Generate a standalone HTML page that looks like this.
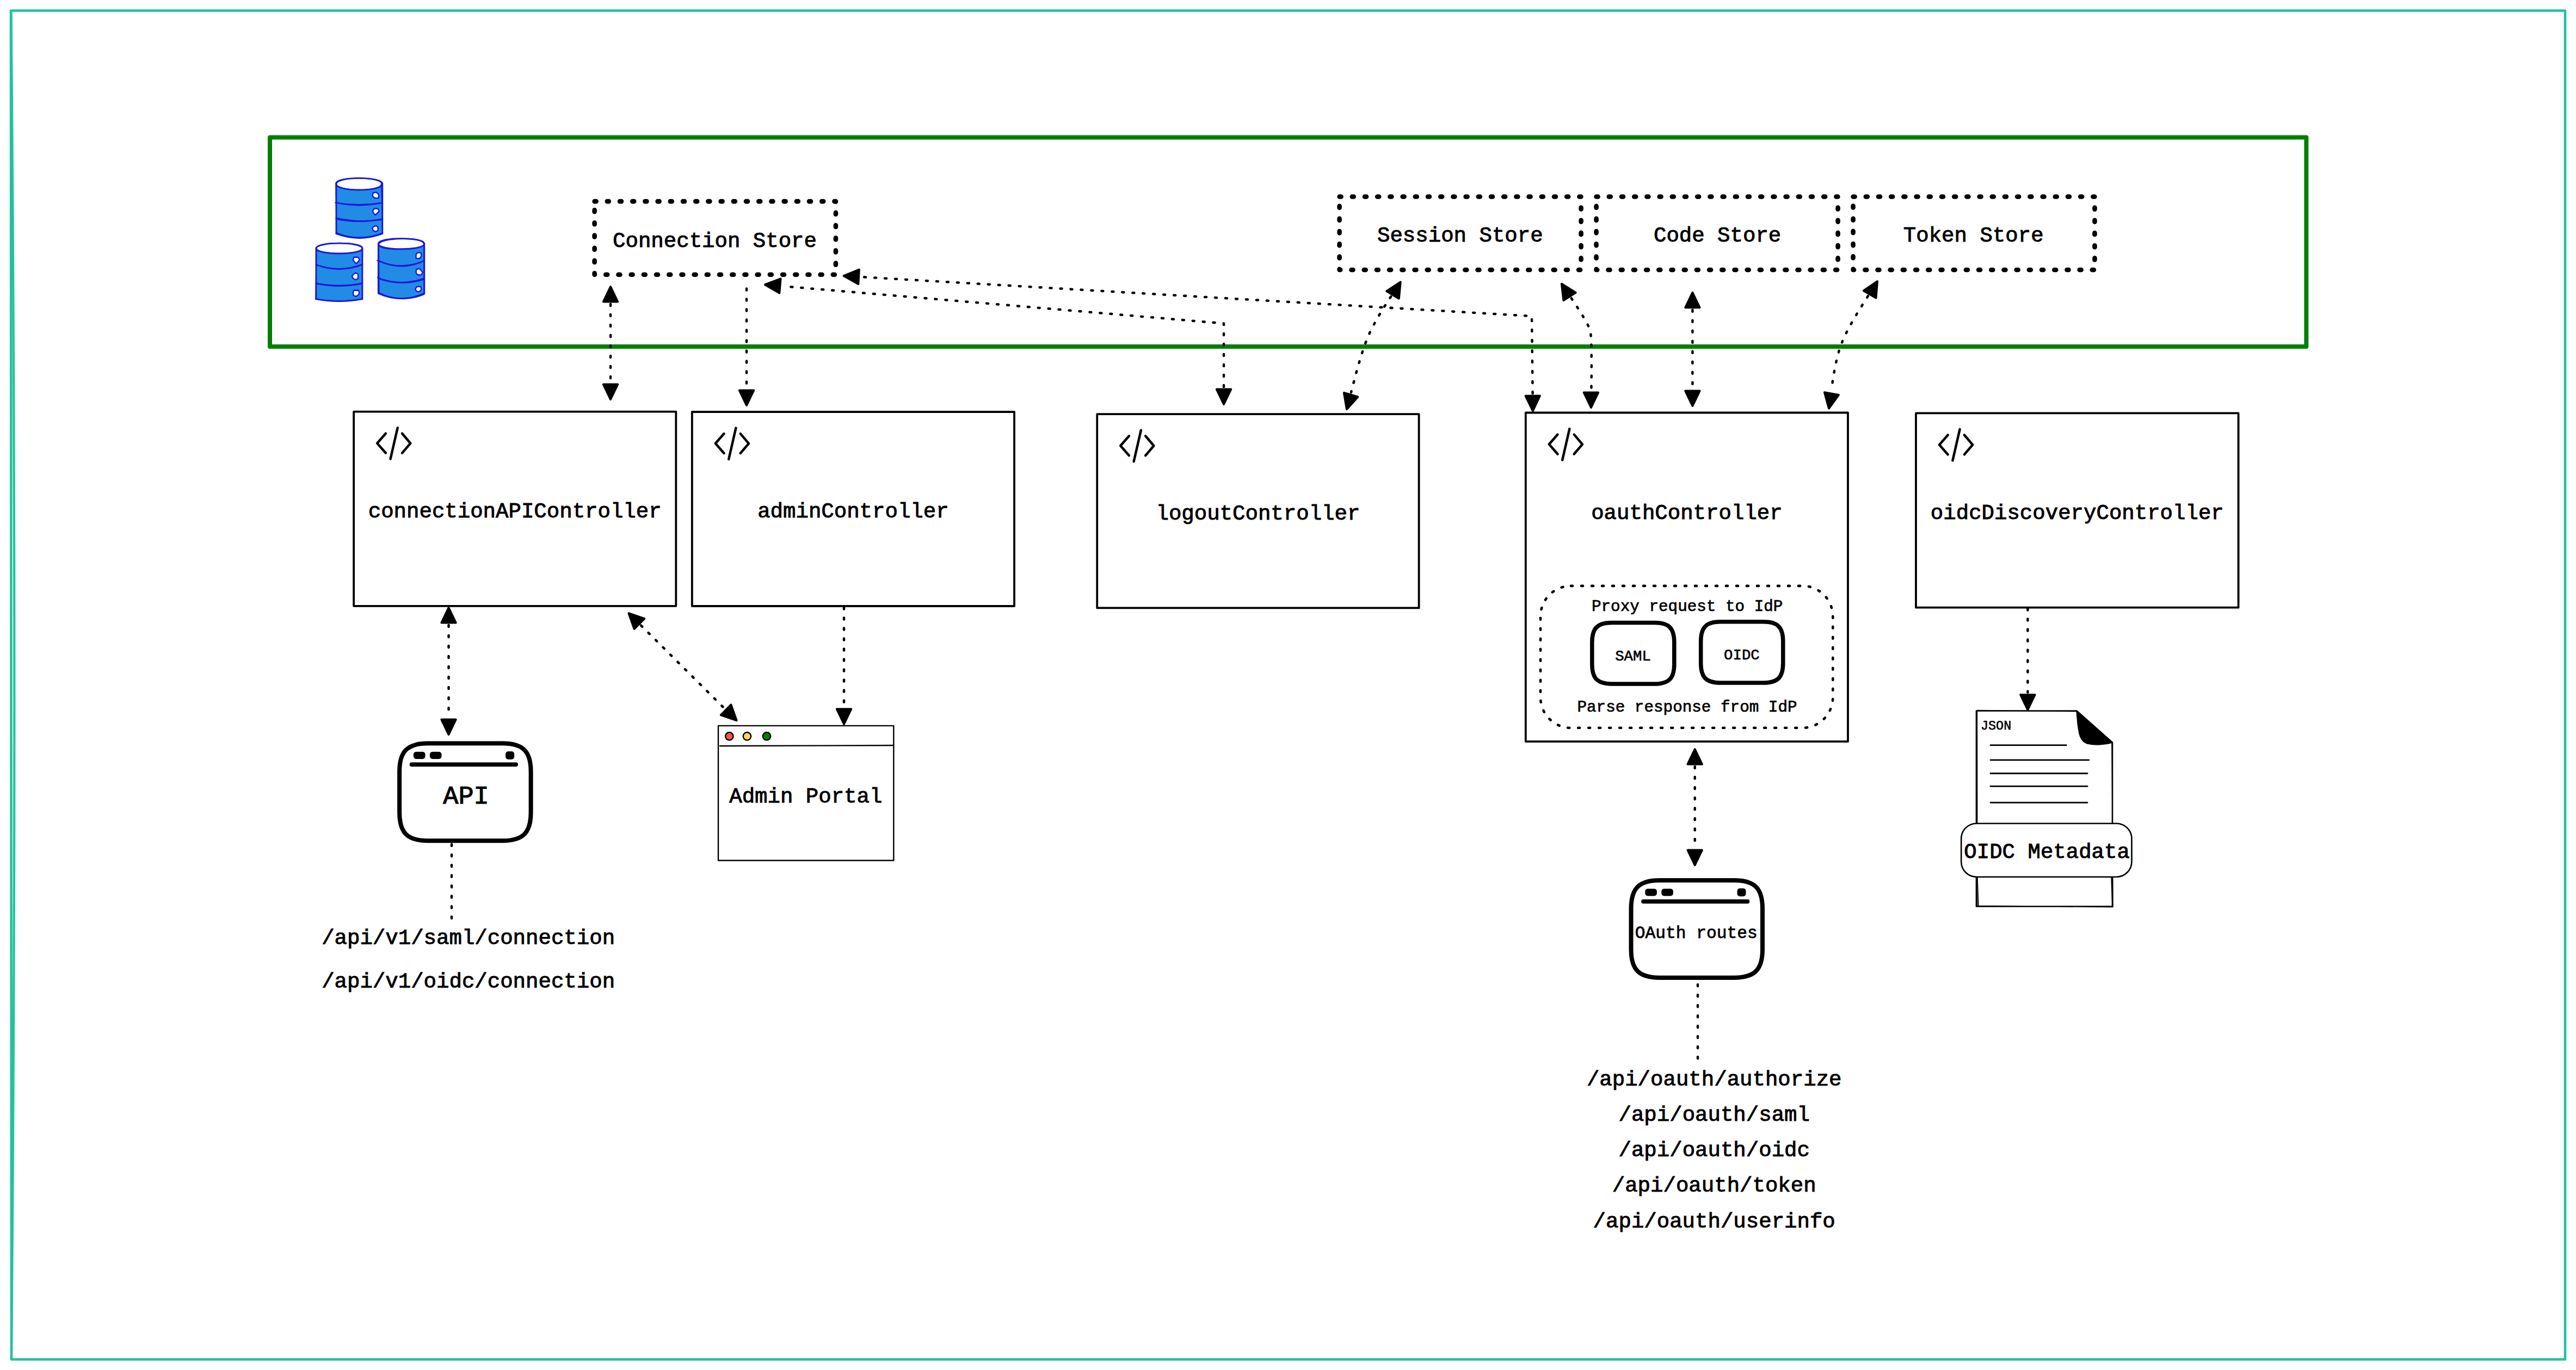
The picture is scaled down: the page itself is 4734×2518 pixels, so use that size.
<!DOCTYPE html><html><head><meta charset="utf-8"><style>html,body{margin:0;padding:0;background:#fff;} text{font-family:"Liberation Mono",monospace;}</style></head><body><svg width="4734" height="2518" viewBox="0 0 4734 2518" style="display:block">
<rect x="0" y="0" width="4734" height="2518" fill="#fff"/>
<path d="M20,19.6 L4714,19.6 L4714,2498.4 L21,2498.4 Z" fill="none" stroke="#22c29d" stroke-width="4.5" stroke-linejoin="round"/>
<path d="M20.5,20 Q32,1259 21,2498" fill="none" stroke="#22c29d" stroke-width="4.2"/>
<rect x="496" y="252.4" width="3742.3999999999996" height="384.6" rx="0" fill="none" stroke="#008000" stroke-width="8" stroke-linejoin="round" />
<rect x="1092.6" y="370.1" width="443.3000000000002" height="134.59999999999997" rx="0" fill="none" stroke="#000" stroke-width="8.6" stroke-linejoin="round" stroke-dasharray="3 20.2" stroke-linecap="round"/>
<rect x="2461.6" y="361.5" width="444.0" height="134.5" rx="0" fill="none" stroke="#000" stroke-width="8.6" stroke-linejoin="round" stroke-dasharray="3 20.2" stroke-linecap="round"/>
<rect x="2933.6" y="361.5" width="444.0" height="134.5" rx="0" fill="none" stroke="#000" stroke-width="8.6" stroke-linejoin="round" stroke-dasharray="3 20.2" stroke-linecap="round"/>
<rect x="3405.6" y="361.5" width="443.9000000000001" height="134.5" rx="0" fill="none" stroke="#000" stroke-width="8.6" stroke-linejoin="round" stroke-dasharray="3 20.2" stroke-linecap="round"/>
<text transform="translate(1313.5,454.0) scale(1,1.0)" font-size="39.05" text-anchor="middle" font-weight="normal" fill="#000" stroke="#000" stroke-width="0.96">Connection Store</text>
<text transform="translate(2683.3,444.4) scale(1,1.0)" font-size="39.05" text-anchor="middle" font-weight="normal" fill="#000" stroke="#000" stroke-width="0.96">Session Store</text>
<text transform="translate(3156.1,444.4) scale(1,1.0)" font-size="39.05" text-anchor="middle" font-weight="normal" fill="#000" stroke="#000" stroke-width="0.96">Code Store</text>
<text transform="translate(3626.7,444.4) scale(1,1.0)" font-size="39.05" text-anchor="middle" font-weight="normal" fill="#000" stroke="#000" stroke-width="0.96">Token Store</text>
<rect x="650.1" y="756.6" width="592.1999999999999" height="357.19999999999993" rx="0" fill="none" stroke="#000" stroke-width="3.8" stroke-linejoin="round" />
<g fill="none" stroke="#000" stroke-width="4.5" stroke-linecap="round" stroke-linejoin="round"><path d="M708.8,796.7 L693.1,814.7 L708.8,832.6"/><path d="M730.7,786.2 L717.5,843.6"/><path d="M739.0,796.7 L754.3,814.7 L739.0,832.6"/></g>
<text transform="translate(946.2,951.0) scale(1,1.0)" font-size="39.05" text-anchor="middle" font-weight="normal" fill="#000" stroke="#000" stroke-width="0.96">connectionAPIController</text>
<rect x="1271.8" y="757" width="592.2" height="357" rx="0" fill="none" stroke="#000" stroke-width="3.8" stroke-linejoin="round" />
<g fill="none" stroke="#000" stroke-width="4.5" stroke-linecap="round" stroke-linejoin="round"><path d="M1330.5,797.1 L1314.8,815.1 L1330.5,833.0"/><path d="M1352.4,786.6 L1339.2,844.0"/><path d="M1360.7,797.1 L1376.0,815.1 L1360.7,833.0"/></g>
<text transform="translate(1567.9,951.0) scale(1,1.0)" font-size="39.05" text-anchor="middle" font-weight="normal" fill="#000" stroke="#000" stroke-width="0.96">adminController</text>
<rect x="2016.2" y="761.2" width="591.3999999999999" height="356.20000000000005" rx="0" fill="none" stroke="#000" stroke-width="3.8" stroke-linejoin="round" />
<g fill="none" stroke="#000" stroke-width="4.5" stroke-linecap="round" stroke-linejoin="round"><path d="M2074.9,801.3 L2059.2,819.3 L2074.9,837.2"/><path d="M2096.8,790.8 L2083.6,848.2"/><path d="M2105.1,801.3 L2120.4,819.3 L2105.1,837.2"/></g>
<text transform="translate(2311.9,955.2) scale(1,1.0)" font-size="39.05" text-anchor="middle" font-weight="normal" fill="#000" stroke="#000" stroke-width="0.96">logoutController</text>
<rect x="2803.8" y="758.5" width="592.1999999999998" height="604.3" rx="0" fill="none" stroke="#000" stroke-width="3.8" stroke-linejoin="round" />
<g fill="none" stroke="#000" stroke-width="4.5" stroke-linecap="round" stroke-linejoin="round"><path d="M2862.5,798.6 L2846.8,816.6 L2862.5,834.5"/><path d="M2884.4,788.1 L2871.2,845.5"/><path d="M2892.7,798.6 L2908.0,816.6 L2892.7,834.5"/></g>
<text transform="translate(3099.9,953.5) scale(1,1.0)" font-size="39.05" text-anchor="middle" font-weight="normal" fill="#000" stroke="#000" stroke-width="0.96">oauthController</text>
<rect x="3521" y="759.4" width="592.6000000000004" height="357.30000000000007" rx="0" fill="none" stroke="#000" stroke-width="3.8" stroke-linejoin="round" />
<g fill="none" stroke="#000" stroke-width="4.5" stroke-linecap="round" stroke-linejoin="round"><path d="M3579.7,799.5 L3564.0,817.5 L3579.7,835.4"/><path d="M3601.6,789.0 L3588.4,846.4"/><path d="M3609.9,799.5 L3625.2,817.5 L3609.9,835.4"/></g>
<text transform="translate(3817.3,953.8) scale(1,1.0)" font-size="39.05" text-anchor="middle" font-weight="normal" fill="#000" stroke="#000" stroke-width="0.96">oidcDiscoveryController</text>
<rect x="2831" y="1076.9" width="537.3" height="260.9" rx="56" fill="none" stroke="#000" stroke-width="4.6" stroke-dasharray="3 16" stroke-linecap="round"/>
<text transform="translate(3100.7,1123.0) scale(1,1.0)" font-size="29.29" text-anchor="middle" font-weight="normal" fill="#000" stroke="#000" stroke-width="0.72">Proxy request to IdP</text>
<text transform="translate(3100.5,1307.6) scale(1,1.0)" font-size="29.29" text-anchor="middle" font-weight="normal" fill="#000" stroke="#000" stroke-width="0.72">Parse response from IdP</text>
<path d="M2961.8,1144.5 L3040.8,1144.5 C3066.8,1144.5 3076.8,1154.5 3076.8,1180.5 L3076.8,1221.0 C3076.8,1246.9 3066.8,1257.0 3040.8,1257.0 L2961.8,1257.0 C2935.9,1257.0 2925.8,1246.9 2925.8,1221.0 L2925.8,1180.5 C2925.8,1154.5 2935.9,1144.5 2961.8,1144.5 Z" fill="none" stroke="#000" stroke-width="7.5"/>
<path d="M3161.7,1142.8 L3240.8,1142.8 C3266.8,1142.8 3276.8,1152.8 3276.8,1178.8 L3276.8,1219.0 C3276.8,1245.0 3266.8,1255.0 3240.8,1255.0 L3161.7,1255.0 C3135.7,1255.0 3125.7,1245.0 3125.7,1219.0 L3125.7,1178.8 C3125.7,1152.8 3135.7,1142.8 3161.7,1142.8 Z" fill="none" stroke="#000" stroke-width="7.5"/>
<text transform="translate(3001.0,1214.0) scale(1,1.0)" font-size="27.34" text-anchor="middle" font-weight="normal" fill="#000" stroke="#000" stroke-width="0.672">SAML</text>
<text transform="translate(3200.9,1211.8) scale(1,1.0)" font-size="27.34" text-anchor="middle" font-weight="normal" fill="#000" stroke="#000" stroke-width="0.672">OIDC</text>
<path d="M786.1,1366.3 L923.6,1366.3 C961.0,1366.3 975.6,1380.9 975.6,1418.3 L975.6,1493.2 C975.6,1530.6 961.0,1545.2 923.6,1545.2 L786.1,1545.2 C748.7,1545.2 734.1,1530.6 734.1,1493.2 L734.1,1418.3 C734.1,1380.9 748.7,1366.3 786.1,1366.3 Z" fill="none" stroke="#000" stroke-width="8"/>
<rect x="759.9" y="1381.7" width="21.6" height="13.3" rx="5" fill="#000"/>
<rect x="789.9" y="1381.7" width="21.6" height="13.3" rx="5" fill="#000"/>
<rect x="929.1" y="1381.1" width="16.0" height="14.6" rx="5" fill="#000"/>
<line x1="756.6" y1="1405.1" x2="948.1" y2="1405.1" stroke="#000" stroke-width="7.8" stroke-linecap="round"/>
<text transform="translate(856.5,1476.7) scale(1,1.0)" font-size="46.86" text-anchor="middle" font-weight="normal" fill="#000" stroke="#000" stroke-width="1.1520000000000001">API</text>
<path d="M3049.5,1618.0 L3187.0,1618.0 C3224.4,1618.0 3239.0,1632.6 3239.0,1670.0 L3239.0,1744.9 C3239.0,1782.3 3224.4,1796.9 3187.0,1796.9 L3049.5,1796.9 C3012.1,1796.9 2997.5,1782.3 2997.5,1744.9 L2997.5,1670.0 C2997.5,1632.6 3012.1,1618.0 3049.5,1618.0 Z" fill="none" stroke="#000" stroke-width="8"/>
<rect x="3023.3" y="1633.4" width="21.6" height="13.3" rx="5" fill="#000"/>
<rect x="3053.3" y="1633.4" width="21.6" height="13.3" rx="5" fill="#000"/>
<rect x="3192.5" y="1632.8" width="16.0" height="14.6" rx="5" fill="#000"/>
<line x1="3020.0" y1="1656.8" x2="3211.5" y2="1656.8" stroke="#000" stroke-width="7.8" stroke-linecap="round"/>
<text transform="translate(3117.3,1723.7) scale(1,1.0)" font-size="31.24" text-anchor="middle" font-weight="normal" fill="#000" stroke="#000" stroke-width="0.768">OAuth routes</text>
<rect x="1320" y="1333.9" width="322.29999999999995" height="247.5999999999999" rx="0" fill="none" stroke="#000" stroke-width="2.4" stroke-linejoin="round" />
<line x1="1322" y1="1371" x2="1642" y2="1370" stroke="#000" stroke-width="2.4"/>
<circle cx="1340.3" cy="1353.2" r="7.2" fill="#fa5252" stroke="#000" stroke-width="2.4"/>
<circle cx="1372.9" cy="1353.2" r="7.2" fill="#f9d65c" stroke="#000" stroke-width="2.4"/>
<circle cx="1409" cy="1353.2" r="7.2" fill="#008000" stroke="#000" stroke-width="2.4"/>
<text transform="translate(1480.8,1475.0) scale(1,1.0)" font-size="39.05" text-anchor="middle" font-weight="normal" fill="#000" stroke="#000" stroke-width="0.96">Admin Portal</text>
<text transform="translate(860.6,1735.0) scale(1,1.0)" font-size="39.05" text-anchor="middle" font-weight="normal" fill="#000" stroke="#000" stroke-width="0.96">/api/v1/saml/connection</text>
<text transform="translate(860.6,1814.6) scale(1,1.0)" font-size="39.05" text-anchor="middle" font-weight="normal" fill="#000" stroke="#000" stroke-width="0.96">/api/v1/oidc/connection</text>
<text transform="translate(3150.2,1994.8) scale(1,1.0)" font-size="39.05" text-anchor="middle" font-weight="normal" fill="#000" stroke="#000" stroke-width="0.96">/api/oauth/authorize</text>
<text transform="translate(3150.2,2060.0) scale(1,1.0)" font-size="39.05" text-anchor="middle" font-weight="normal" fill="#000" stroke="#000" stroke-width="0.96">/api/oauth/saml</text>
<text transform="translate(3150.2,2125.2) scale(1,1.0)" font-size="39.05" text-anchor="middle" font-weight="normal" fill="#000" stroke="#000" stroke-width="0.96">/api/oauth/oidc</text>
<text transform="translate(3150.2,2190.4) scale(1,1.0)" font-size="39.05" text-anchor="middle" font-weight="normal" fill="#000" stroke="#000" stroke-width="0.96">/api/oauth/token</text>
<text transform="translate(3150.2,2255.6) scale(1,1.0)" font-size="39.05" text-anchor="middle" font-weight="normal" fill="#000" stroke="#000" stroke-width="0.96">/api/oauth/userinfo</text>
<path d="M3632,1306.5 L3816.4,1306.5 L3882,1364.6 L3882,1666 L3632,1666 Z" fill="#fff" stroke="#000" stroke-width="2.6" stroke-linejoin="round"/>
<path d="M3633.5,1305.5 L3815,1307.5 L3881,1366 L3883,1667 L3634,1665 Z" fill="none" stroke="#000" stroke-width="1.4" stroke-linejoin="round"/>
<path d="M3816.4,1306.5 L3882,1364.6 C3870,1368 3850,1370 3836,1366.5 C3823,1362 3821,1350 3818.5,1330 Z" fill="#000" stroke="#000" stroke-width="2.2" stroke-linejoin="round"/>
<line x1="3658" y1="1369.7" x2="3797.3" y2="1369.7" stroke="#000" stroke-width="2.8" stroke-linecap="round"/>
<line x1="3658" y1="1396.8" x2="3839" y2="1396.8" stroke="#000" stroke-width="2.8" stroke-linecap="round"/>
<line x1="3658" y1="1421.5" x2="3836" y2="1421.5" stroke="#000" stroke-width="2.8" stroke-linecap="round"/>
<line x1="3658" y1="1445.2" x2="3836" y2="1445.2" stroke="#000" stroke-width="2.8" stroke-linecap="round"/>
<line x1="3658" y1="1475.1" x2="3836" y2="1475.1" stroke="#000" stroke-width="2.8" stroke-linecap="round"/>
<text transform="translate(3640.0,1340.7) scale(1,1.0)" font-size="23.43" text-anchor="start" font-weight="normal" fill="#000" stroke="#000" stroke-width="0.5760000000000001">JSON</text>
<path d="M3634,1612 L3636,1667 M3880,1612 L3882,1667" fill="none" stroke="#000" stroke-width="1.4"/>
<rect x="3604.2" y="1513.5" width="313.3" height="98.2" rx="28" fill="#fff" stroke="#000" stroke-width="2.6"/>
<text transform="translate(3761.6,1576.5) scale(1,1.0)" font-size="39.05" text-anchor="middle" font-weight="normal" fill="#000" stroke="#000" stroke-width="0.96">OIDC Metadata</text>
<path d="M1122.0,559.0 L1122.0,702.0" fill="none" stroke="#000" stroke-width="4.5" stroke-dasharray="3 16" stroke-linecap="round" stroke-linejoin="round"/>
<polygon points="1122.0,734.0 1108.8,706.5 1135.2,706.5" fill="#000" stroke="#000" stroke-width="4" stroke-linejoin="round"/>
<polygon points="1122.0,527.0 1135.2,554.5 1108.8,554.5" fill="#000" stroke="#000" stroke-width="4" stroke-linejoin="round"/>
<path d="M1372.0,530.5 L1372.0,713.0" fill="none" stroke="#000" stroke-width="4.5" stroke-dasharray="3 16" stroke-linecap="round" stroke-linejoin="round"/>
<polygon points="1372.0,745.0 1358.8,717.5 1385.2,717.5" fill="#000" stroke="#000" stroke-width="4" stroke-linejoin="round"/>
<path d="M2249.0,711.0 L2249.0,594.5 L1437.9,525.9" fill="none" stroke="#000" stroke-width="4.5" stroke-dasharray="3 16" stroke-linecap="round" stroke-linejoin="round"/>
<polygon points="1406.0,523.2 1434.5,512.3 1432.3,538.6" fill="#000" stroke="#000" stroke-width="4" stroke-linejoin="round"/>
<polygon points="2249.0,743.0 2235.8,715.5 2262.2,715.5" fill="#000" stroke="#000" stroke-width="4" stroke-linejoin="round"/>
<path d="M2816.6,723.0 L2815.0,581.0 L1582.5,509.0" fill="none" stroke="#000" stroke-width="4.5" stroke-dasharray="3 16" stroke-linecap="round" stroke-linejoin="round"/>
<polygon points="1550.6,507.1 1578.8,495.5 1577.3,521.9" fill="#000" stroke="#000" stroke-width="4" stroke-linejoin="round"/>
<polygon points="2817.0,755.0 2803.5,727.7 2829.9,727.4" fill="#000" stroke="#000" stroke-width="4" stroke-linejoin="round"/>
<path d="M2556.2,545.1 L2555.3,546.5 L2553.6,549.0 L2551.8,551.7 L2550.1,554.4 L2548.3,557.1 L2546.5,559.9 L2544.7,562.8 L2542.9,565.6 L2541.1,568.5 L2539.3,571.5 L2537.5,574.4 L2535.7,577.4 L2533.9,580.4 L2532.2,583.5 L2530.4,586.5 L2528.7,589.6 L2527.0,592.6 L2525.3,595.7 L2523.7,598.8 L2522.1,601.8 L2520.5,604.9 L2519.0,608.0 L2517.5,611.0 L2516.1,614.0 L2514.8,617.0 L2513.5,620.0 L2512.2,623.0 L2511.0,626.2 L2509.8,629.4 L2508.5,632.8 L2507.3,636.2 L2506.1,639.7 L2504.9,643.3 L2503.7,647.0 L2502.5,650.7 L2501.3,654.5 L2500.1,658.3 L2498.9,662.2 L2497.8,666.1 L2496.7,670.0 L2495.5,673.9 L2494.4,677.8 L2493.3,681.8 L2492.3,685.7 L2491.2,689.6 L2490.2,693.5 L2489.2,697.3 L2488.2,701.1 L2487.2,704.9 L2486.2,708.6 L2485.3,712.2 L2484.4,715.8 L2483.5,719.3 L2483.0,721.1" fill="none" stroke="#000" stroke-width="4.5" stroke-dasharray="3 16" stroke-linecap="round" stroke-linejoin="round"/>
<polygon points="2475.0,752.1 2469.9,722.0 2495.3,729.3" fill="#000" stroke="#000" stroke-width="4" stroke-linejoin="round"/>
<polygon points="2573.7,518.3 2570.8,548.7 2548.2,535.1" fill="#000" stroke="#000" stroke-width="4" stroke-linejoin="round"/>
<path d="M2887.8,548.2 L2888.2,548.8 L2890.1,551.6 L2891.9,554.3 L2893.7,557.1 L2895.6,560.0 L2897.5,562.8 L2899.3,565.7 L2901.2,568.6 L2903.0,571.4 L2904.8,574.3 L2906.5,577.1 L2908.2,579.9 L2909.8,582.6 L2911.4,585.3 L2912.9,587.9 L2914.4,590.4 L2915.7,592.8 L2917.0,595.2 L2918.1,597.4 L2919.2,599.5 L2920.1,601.5 L2920.9,603.4 L2921.6,605.1 L2922.1,606.6 L2922.5,608.0 L2922.8,609.5 L2923.1,611.3 L2923.3,613.5 L2923.5,615.9 L2923.7,618.7 L2923.9,621.7 L2924.1,625.0 L2924.2,628.5 L2924.4,632.2 L2924.5,636.1 L2924.6,640.2 L2924.6,644.5 L2924.7,648.9 L2924.7,653.4 L2924.8,658.0 L2924.8,662.7 L2924.8,667.5 L2924.8,672.3 L2924.8,677.1 L2924.8,682.0 L2924.7,686.8 L2924.7,691.6 L2924.7,696.3 L2924.6,701.0 L2924.6,705.6 L2924.5,710.1 L2924.5,714.4 L2924.4,717.0" fill="none" stroke="#000" stroke-width="4.5" stroke-dasharray="3 16" stroke-linecap="round" stroke-linejoin="round"/>
<polygon points="2924.0,749.0 2910.7,721.5 2937.1,721.5" fill="#000" stroke="#000" stroke-width="4" stroke-linejoin="round"/>
<polygon points="2869.9,521.7 2895.7,537.9 2873.4,552.0" fill="#000" stroke="#000" stroke-width="4" stroke-linejoin="round"/>
<path d="M3110.4,569.8 L3110.4,714.0" fill="none" stroke="#000" stroke-width="4.5" stroke-dasharray="3 16" stroke-linecap="round" stroke-linejoin="round"/>
<polygon points="3110.4,746.0 3097.2,718.5 3123.6,718.5" fill="#000" stroke="#000" stroke-width="4" stroke-linejoin="round"/>
<polygon points="3110.4,537.8 3123.6,565.3 3097.2,565.3" fill="#000" stroke="#000" stroke-width="4" stroke-linejoin="round"/>
<path d="M3432.9,544.2 L3432.6,544.6 L3430.8,547.5 L3428.9,550.5 L3426.9,553.5 L3425.0,556.6 L3423.0,559.8 L3421.0,563.0 L3419.0,566.2 L3416.9,569.5 L3414.9,572.8 L3412.9,576.2 L3410.9,579.5 L3408.9,582.9 L3406.9,586.3 L3404.9,589.7 L3403.0,593.1 L3401.1,596.5 L3399.3,599.9 L3397.4,603.2 L3395.7,606.6 L3394.0,609.9 L3392.3,613.2 L3390.7,616.4 L3389.2,619.7 L3387.8,622.8 L3386.4,625.9 L3385.2,629.0 L3384.0,632.0 L3382.9,635.0 L3381.8,638.1 L3380.8,641.2 L3379.8,644.4 L3378.8,647.7 L3377.9,651.0 L3377.0,654.4 L3376.2,657.8 L3375.3,661.2 L3374.5,664.7 L3373.8,668.2 L3373.0,671.7 L3372.3,675.2 L3371.7,678.7 L3371.0,682.2 L3370.4,685.7 L3369.8,689.2 L3369.2,692.7 L3368.6,696.1 L3368.1,699.5 L3367.6,702.9 L3367.1,706.3 L3366.6,709.5 L3366.2,712.8 L3365.7,716.0 L3365.4,718.8" fill="none" stroke="#000" stroke-width="4.5" stroke-dasharray="3 16" stroke-linecap="round" stroke-linejoin="round"/>
<polygon points="3361.0,750.5 3353.0,721.1 3379.0,725.9" fill="#000" stroke="#000" stroke-width="4" stroke-linejoin="round"/>
<polygon points="3450.0,517.2 3447.5,547.6 3424.7,534.3" fill="#000" stroke="#000" stroke-width="4" stroke-linejoin="round"/>
<path d="M824.5,1149.0 L824.5,1318.0" fill="none" stroke="#000" stroke-width="4.5" stroke-dasharray="3 16" stroke-linecap="round" stroke-linejoin="round"/>
<polygon points="824.5,1350.0 811.3,1322.5 837.7,1322.5" fill="#000" stroke="#000" stroke-width="4" stroke-linejoin="round"/>
<polygon points="824.5,1117.0 837.7,1144.5 811.3,1144.5" fill="#000" stroke="#000" stroke-width="4" stroke-linejoin="round"/>
<path d="M1178.1,1149.7 L1330.9,1301.6" fill="none" stroke="#000" stroke-width="4.5" stroke-dasharray="3 16" stroke-linecap="round" stroke-linejoin="round"/>
<polygon points="1353.6,1324.2 1324.8,1314.2 1343.4,1295.4" fill="#000" stroke="#000" stroke-width="4" stroke-linejoin="round"/>
<polygon points="1155.4,1127.1 1184.2,1137.1 1165.6,1155.9" fill="#000" stroke="#000" stroke-width="4" stroke-linejoin="round"/>
<path d="M1551.0,1116.4 L1551.0,1298.7" fill="none" stroke="#000" stroke-width="4.5" stroke-dasharray="3 16" stroke-linecap="round" stroke-linejoin="round"/>
<polygon points="1551.0,1330.7 1537.8,1303.2 1564.2,1303.2" fill="#000" stroke="#000" stroke-width="4" stroke-linejoin="round"/>
<path d="M830.0,1551.7 L830.0,1688.6" fill="none" stroke="#000" stroke-width="4.5" stroke-dasharray="3 16" stroke-linecap="round" stroke-linejoin="round"/>
<path d="M3114.7,1409.0 L3114.7,1558.0" fill="none" stroke="#000" stroke-width="4.5" stroke-dasharray="3 16" stroke-linecap="round" stroke-linejoin="round"/>
<polygon points="3114.7,1590.0 3101.5,1562.5 3127.9,1562.5" fill="#000" stroke="#000" stroke-width="4" stroke-linejoin="round"/>
<polygon points="3114.7,1377.0 3127.9,1404.5 3101.5,1404.5" fill="#000" stroke="#000" stroke-width="4" stroke-linejoin="round"/>
<path d="M3120.0,1809.5 L3120.0,1948.8" fill="none" stroke="#000" stroke-width="4.5" stroke-dasharray="3 16" stroke-linecap="round" stroke-linejoin="round"/>
<path d="M3726.4,1118.5 L3726.4,1272.4" fill="none" stroke="#000" stroke-width="4.5" stroke-dasharray="3 16" stroke-linecap="round" stroke-linejoin="round"/>
<polygon points="3726.4,1304.4 3713.2,1276.9 3739.6,1276.9" fill="#000" stroke="#000" stroke-width="4" stroke-linejoin="round"/>
<path d="M617.9,338.2 L617.9,429.5 Q660.3499999999999,445.5 702.8,429.5 L702.8,338.2 Z" fill="#228be6"/>
<ellipse cx="660.3499999999999" cy="338.2" rx="42.44999999999999" ry="10.8" fill="#fff"/>
<path d="M617.9,338.2 C617.9,323.8 702.8,323.8 702.8,338.2 C702.8,352.6 617.9,352.6 617.9,338.2" fill="none" stroke="#1a1ad8" stroke-width="2.8" stroke-linecap="round"/>
<path d="M617.2,336.8 C617.2,324.4 701.1,324.0 701.1,337.7 C701.1,352.7 617.2,353.2 617.2,336.8" fill="none" stroke="#1a1ad8" stroke-width="1.96" stroke-linecap="round"/>
<path d="M617.9,338.2 L617.9,429.5 M702.8,338.2 L702.8,429.5" fill="none" stroke="#1a1ad8" stroke-width="2.8" stroke-linecap="round"/>
<path d="M617.2,336.8 L618.5,427.8 M701.1,337.7 L702.9,428.1" fill="none" stroke="#1a1ad8" stroke-width="1.96" stroke-linecap="round"/>
<path d="M617.9,429.5 Q660.3,445.5 702.8,429.5" fill="none" stroke="#1a1ad8" stroke-width="2.8" stroke-linecap="round"/>
<path d="M618.5,427.8 Q659.6,445.0 702.9,428.1" fill="none" stroke="#1a1ad8" stroke-width="1.96" stroke-linecap="round"/>
<path d="M617.9,372.5 Q660.3,381.5 702.8,372.5" fill="none" stroke="#1a1ad8" stroke-width="2.8" stroke-linecap="round"/>
<path d="M616.1,372.5 Q660.3,379.6 702.8,372.5" fill="none" stroke="#1a1ad8" stroke-width="1.96" stroke-linecap="round"/>
<path d="M617.9,402.3 Q660.3,411.1 702.8,402.3" fill="none" stroke="#1a1ad8" stroke-width="2.8" stroke-linecap="round"/>
<path d="M617.6,400.6 Q660.3,409.5 702.8,404.0" fill="none" stroke="#1a1ad8" stroke-width="1.96" stroke-linecap="round"/>
<polygon points="696.2,359.4 695.3,364.1 690.6,364.3 687.0,363.0 684.5,359.4 685.7,354.5 690.6,353.4 694.5,355.5" fill="#fff" stroke="#1a1ad8" stroke-width="2.4" stroke-linejoin="round"/>
<polygon points="696.9,388.3 693.3,391.6 690.0,395.0 686.3,392.0 685.1,388.3 686.5,384.8 690.0,383.0 694.6,383.7" fill="#fff" stroke="#1a1ad8" stroke-width="2.4" stroke-linejoin="round"/>
<polygon points="695.0,419.8 694.2,424.0 690.0,425.9 686.1,423.7 684.1,419.8 686.6,416.4 690.0,415.1 693.6,416.2" fill="#fff" stroke="#1a1ad8" stroke-width="2.4" stroke-linejoin="round"/>
<path d="M580.9,456.6 L580.9,549.6 Q623.4,557.6 665.9,549.6 L665.9,456.6 Z" fill="#228be6"/>
<ellipse cx="623.4" cy="456.6" rx="42.5" ry="9.5" fill="#fff"/>
<path d="M580.9,456.6 C580.9,444.0 665.9,444.0 665.9,456.6 C665.9,469.2 580.9,469.2 580.9,456.6" fill="none" stroke="#1a1ad8" stroke-width="2.8" stroke-linecap="round"/>
<path d="M581.6,456.3 C581.6,443.2 666.2,443.8 666.2,455.8 C666.2,469.0 581.6,468.5 581.6,456.3" fill="none" stroke="#1a1ad8" stroke-width="1.96" stroke-linecap="round"/>
<path d="M580.9,456.6 L580.9,549.6 M665.9,456.6 L665.9,549.6" fill="none" stroke="#1a1ad8" stroke-width="2.8" stroke-linecap="round"/>
<path d="M581.6,456.3 L580.2,549.9 M666.2,455.8 L665.7,549.3" fill="none" stroke="#1a1ad8" stroke-width="1.96" stroke-linecap="round"/>
<path d="M580.9,549.6 Q623.4,557.6 665.9,549.6" fill="none" stroke="#1a1ad8" stroke-width="2.8" stroke-linecap="round"/>
<path d="M580.2,549.9 Q624.1,556.8 665.7,549.3" fill="none" stroke="#1a1ad8" stroke-width="1.96" stroke-linecap="round"/>
<path d="M580.9,486.5 Q623.4,502.5 665.9,486.5" fill="none" stroke="#1a1ad8" stroke-width="2.8" stroke-linecap="round"/>
<path d="M582.1,487.3 Q623.4,501.5 665.9,485.7" fill="none" stroke="#1a1ad8" stroke-width="1.96" stroke-linecap="round"/>
<path d="M580.9,521.0 Q623.4,529.0 665.9,521.0" fill="none" stroke="#1a1ad8" stroke-width="2.8" stroke-linecap="round"/>
<path d="M581.2,521.1 Q623.4,530.5 665.9,520.9" fill="none" stroke="#1a1ad8" stroke-width="1.96" stroke-linecap="round"/>
<polygon points="660.9,477.5 658.2,481.2 654.5,484.5 651.0,481.0 648.9,477.5 650.0,473.0 654.5,472.5 658.6,473.4" fill="#fff" stroke="#1a1ad8" stroke-width="2.4" stroke-linejoin="round"/>
<polygon points="658.2,507.8 657.9,512.2 653.5,514.2 649.3,512.0 646.8,507.8 649.7,504.0 653.5,501.5 657.8,503.5" fill="#fff" stroke="#1a1ad8" stroke-width="2.4" stroke-linejoin="round"/>
<polygon points="660.5,538.2 658.5,542.2 654.5,544.8 649.6,543.1 648.8,538.2 650.1,533.8 654.5,533.5 658.9,533.8" fill="#fff" stroke="#1a1ad8" stroke-width="2.4" stroke-linejoin="round"/>
<path d="M695.3,448 L695.3,539.1 Q737.55,558.1 779.8,539.1 L779.8,448 Z" fill="#228be6"/>
<ellipse cx="737.55" cy="448" rx="42.25" ry="9.7" fill="#fff"/>
<path d="M695.3,448.0 C695.3,435.1 779.8,435.1 779.8,448.0 C779.8,460.9 695.3,460.9 695.3,448.0" fill="none" stroke="#1a1ad8" stroke-width="2.8" stroke-linecap="round"/>
<path d="M695.9,450.0 C695.9,436.4 778.9,434.6 778.9,448.7 C778.9,460.4 695.9,462.2 695.9,450.0" fill="none" stroke="#1a1ad8" stroke-width="1.96" stroke-linecap="round"/>
<path d="M695.3,448.0 L695.3,539.1 M779.8,448.0 L779.8,539.1" fill="none" stroke="#1a1ad8" stroke-width="2.8" stroke-linecap="round"/>
<path d="M695.9,450.0 L696.6,538.2 M778.9,448.7 L779.3,541.1" fill="none" stroke="#1a1ad8" stroke-width="1.96" stroke-linecap="round"/>
<path d="M695.3,539.1 Q737.5,558.1 779.8,539.1" fill="none" stroke="#1a1ad8" stroke-width="2.8" stroke-linecap="round"/>
<path d="M696.6,538.2 Q738.1,558.8 779.3,541.1" fill="none" stroke="#1a1ad8" stroke-width="1.96" stroke-linecap="round"/>
<path d="M695.3,479.0 Q737.5,499.0 779.8,479.0" fill="none" stroke="#1a1ad8" stroke-width="2.8" stroke-linecap="round"/>
<path d="M693.4,478.8 Q737.5,497.7 779.8,479.2" fill="none" stroke="#1a1ad8" stroke-width="1.96" stroke-linecap="round"/>
<path d="M695.3,511.6 Q737.5,526.8 779.8,511.6" fill="none" stroke="#1a1ad8" stroke-width="2.8" stroke-linecap="round"/>
<path d="M693.8,509.8 Q737.5,527.9 779.8,513.4" fill="none" stroke="#1a1ad8" stroke-width="1.96" stroke-linecap="round"/>
<polygon points="774.2,469.9 773.0,473.6 769.3,475.4 764.6,474.6 764.5,469.9 765.3,465.9 769.3,464.0 774.1,465.1" fill="#fff" stroke="#1a1ad8" stroke-width="2.4" stroke-linejoin="round"/>
<polygon points="776.6,500.2 774.7,504.9 770.0,505.5 766.0,504.2 764.5,500.2 765.2,495.4 770.0,493.3 773.5,496.7" fill="#fff" stroke="#1a1ad8" stroke-width="2.4" stroke-linejoin="round"/>
<polygon points="774.3,531.1 772.9,534.7 769.3,536.3 765.2,535.2 763.3,531.1 765.6,527.4 769.3,526.5 773.3,527.1" fill="#fff" stroke="#1a1ad8" stroke-width="2.4" stroke-linejoin="round"/>
</svg></body></html>
